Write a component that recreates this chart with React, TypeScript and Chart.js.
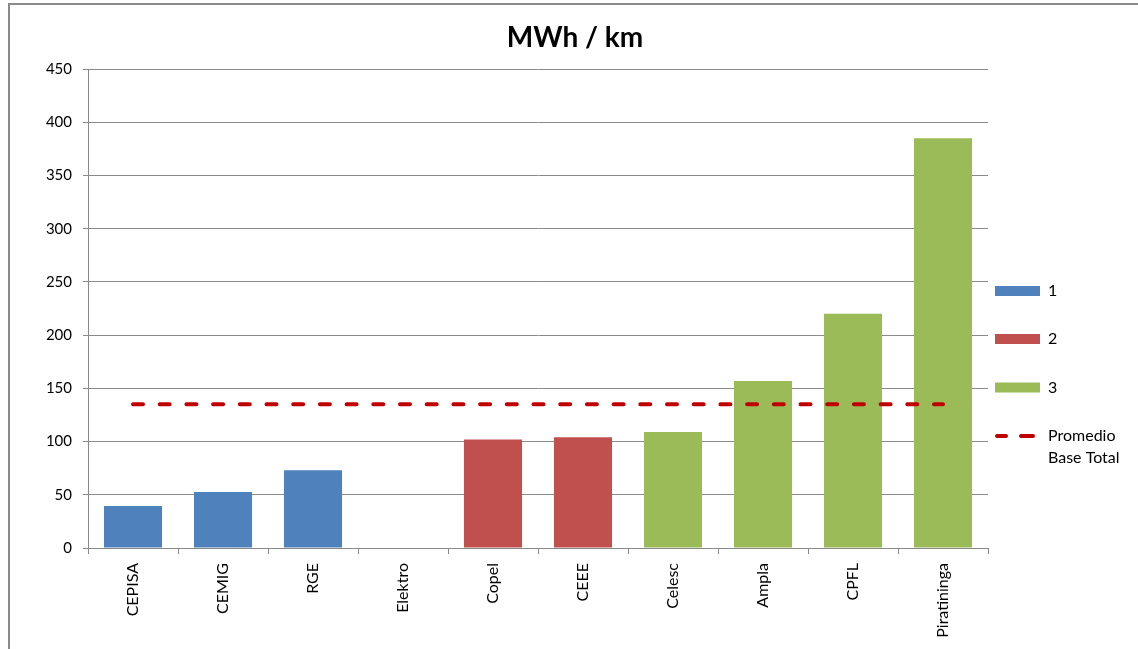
import React, { useEffect, useRef } from "react";
import { Chart, registerables } from "chart.js";

Chart.register(...registerables);

// Distribution companies on the category axis
const companies = [
  "CEPISA",
  "CEMIG",
  "RGE",
  "Elektro",
  "Copel",
  "CEEE",
  "Celesc",
  "Ampla",
  "CPFL",
  "Piratininga",
];

// MWh per km of network, split by group
const group1 = [39.5, 52.5, 73, null, null, null, null, null, null, null];
const group2 = [null, null, null, null, 102, 104, null, null, null, null];
const group3 = [null, null, null, null, null, null, 109, 157, 220, 385];

// Overall average across the whole base
const averageValue = 135;
const averageLine = companies.map(() => averageValue);

const yTicks = [0, 50, 100, 150, 200, 250, 300, 350, 400, 450];

const FONT = "Lato, 'Open Sans', sans-serif";
const GRID = "#8a8a8a";
const AVG_DASH = [10, 16.7];

// Title and right-hand key drawn straight onto the canvas
const decorations = {
  id: "decorations",
  afterDraw(chart: any) {
    const ctx = chart.ctx;
    ctx.save();
    ctx.fillStyle = "#000";
    ctx.font = `bold 28px ${FONT}`;
    ctx.textAlign = "center";
    ctx.textBaseline = "alphabetic";
    ctx.fillText("MWh / km", 575, 47);

    const x0 = 995;
    const w = 45;
    const rows = [291, 339, 387.5, 436];
    ctx.font = `16px ${FONT}`;
    ctx.textAlign = "left";
    ctx.textBaseline = "middle";
    chart.data.datasets.forEach((ds: any, i: number) => {
      const cy = rows[i];
      if (ds.type === "line") {
        ctx.save();
        ctx.strokeStyle = ds.borderColor;
        ctx.lineWidth = 4;
        ctx.lineCap = "round";
        ctx.beginPath();
        ctx.moveTo(x0 + 2, cy);
        ctx.lineTo(x0 + 11, cy);
        ctx.moveTo(x0 + 26, cy);
        ctx.lineTo(x0 + 38, cy);
        ctx.stroke();
        ctx.restore();
      } else {
        ctx.fillStyle = ds.backgroundColor;
        ctx.fillRect(x0, cy - 5, w, 10);
      }
      ctx.fillStyle = "#000";
      const lines = String(ds.label).split("\n");
      lines.forEach((t: string, k: number) => {
        ctx.fillText(t, x0 + 53, cy + k * 22);
      });
    });
    ctx.restore();
  },
};

export default function App() {
  const canvasRef = useRef<HTMLCanvasElement | null>(null);

  useEffect(() => {
    if (!canvasRef.current) return;
    const chart = new Chart(canvasRef.current, {
      type: "bar",
      data: {
        labels: companies,
        datasets: [
          {
            type: "bar",
            label: "1",
            data: group1,
            backgroundColor: "#4F81BD",
            order: 1,
          },
          {
            type: "bar",
            label: "2",
            data: group2,
            backgroundColor: "#C0504D",
            order: 1,
          },
          {
            type: "bar",
            label: "3",
            data: group3,
            backgroundColor: "#9BBB59",
            order: 1,
          },
          {
            type: "line",
            label: "Promedio\nBase Total",
            data: averageLine,
            borderColor: "#C00000",
            backgroundColor: "#C00000",
            borderWidth: 4,
            borderDash: AVG_DASH,
            borderCapStyle: "round",
            pointRadius: 0,
            fill: false,
            order: 0,
          },
        ] as any,
      },
      options: {
        responsive: false,
        animation: false,
        events: [],
        layout: { padding: { top: 69, right: 150, left: 0, bottom: 0 } },
        plugins: {
          legend: { display: false },
          title: { display: false },
          tooltip: { enabled: false },
        },
        datasets: {
          bar: { categoryPercentage: 1, barPercentage: 0.645 },
        },
        scales: {
          x: {
            stacked: true,
            offset: true,
            grid: {
              offset: true,
              drawOnChartArea: false,
              drawTicks: true,
              tickLength: 6,
              color: GRID,
            },
            border: { display: true, color: GRID, width: 1 },
            ticks: {
              autoSkip: false,
              minRotation: 90,
              maxRotation: 90,
              padding: 9,
              color: "#000",
              font: { family: FONT, size: 16 },
            },
            afterFit(scale: any) {
              scale.height = 101;
            },
          },
          y: {
            min: 0,
            max: 450,
            afterBuildTicks(scale: any) {
              scale.ticks = yTicks.map((v) => ({ value: v }));
            },
            grid: {
              color: GRID,
              lineWidth: 1,
              drawTicks: true,
              tickLength: 5,
            },
            border: { display: true, color: GRID, width: 1 },
            ticks: {
              padding: 11,
              color: "#000",
              font: { family: FONT, size: 15 },
            },
            afterFit(scale: any) {
              scale.width = 88;
            },
          },
        },
      },
      plugins: [decorations],
    });
    return () => chart.destroy();
  }, []);

  return (
    <div
      style={{
        position: "fixed",
        left: 0,
        top: 0,
        width: 1138,
        height: 649,
        overflow: "hidden",
        background: "#fff",
      }}
    >
      <div
        style={{
          position: "absolute",
          left: 8,
          top: 3,
          width: 1400,
          height: 900,
          borderTop: "2px solid #8a8a8a",
          borderLeft: "2px solid #8a8a8a",
        }}
      />
      <canvas
        ref={canvasRef}
        width={1138}
        height={649}
        style={{ position: "absolute", left: 0, top: 0, display: "block" }}
      />
    </div>
  );
}
